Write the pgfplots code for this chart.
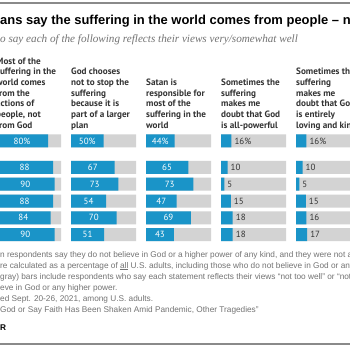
\documentclass[border=0pt]{standalone}
\usepackage{fontspec}
\setmainfont{PT Sans}
\newfontfamily\subfont{Liberation Serif}
\newfontfamily\libsans{Liberation Sans}
\usepackage{pgfplots}
\pgfplotsset{compat=1.18}
\usepackage{pgfplotstable}
\definecolor{pblue}{HTML}{1A94C8}
\definecolor{pgray}{HTML}{D3D3D3}
\definecolor{hdr}{HTML}{333333}
\definecolor{notec}{HTML}{737373}
\definecolor{rule}{HTML}{8A8A8A}

% y = row position (px from top), v = percent
\pgfplotstableread{
y v
141 80
167.5 88
184.25 90
201 88
217.75 84
234.5 90
}\colA
\pgfplotstableread{
y v
141 50
167.5 67
184.25 73
201 54
217.75 70
234.5 51
}\colB
\pgfplotstableread{
y v
141 44
167.5 65
184.25 73
201 47
217.75 69
234.5 43
}\colC
\pgfplotstableread{
y v
141 16
167.5 10
184.25 5
201 15
217.75 18
234.5 18
}\colD
\pgfplotstableread{
y v
141 16
167.5 10
184.25 5
201 15
217.75 16
234.5 17
}\colE

\pgfplotsset{colax/.style={scale only axis, width=65bp, height=115bp,
  xmin=0, xmax=100, ymin=130, ymax=245, y dir=reverse, hide axis,
  clip=false, anchor=north west,
  /pgf/number format/assume math mode=true}}

\newcommand\bars[1]{%
  \addplot[xbar, bar width=13bp, bar shift=0pt, fill=pgray, draw=none] table[x expr=100, y=y]{#1};
  \addplot[xbar, bar width=13bp, bar shift=0pt, fill=pblue, draw=none] table[x=v, y=y]{#1};
}
\newcommand\inlabels[1]{%
  \addplot[draw=none, mark=none, point meta=\thisrow{v}, restrict y to domain=130:150,
    nodes near coords={\pgfmathprintnumber{\pgfplotspointmeta}\%},
    every node near coord/.append style={text=white, anchor=center, inner sep=0pt, font=\fontsize{9}{9}\selectfont}]
    table[x expr=\thisrow{v}/2, y=y]{#1};
  \addplot[draw=none, mark=none, point meta=\thisrow{v}, restrict y to domain=150:250,
    nodes near coords={\pgfmathprintnumber{\pgfplotspointmeta}},
    every node near coord/.append style={text=white, anchor=center, inner sep=0pt, font=\fontsize{9}{9}\selectfont}]
    table[x expr=\thisrow{v}/2, y=y]{#1};
}
\newcommand\outlabels[1]{%
  \addplot[draw=none, mark=none, point meta=\thisrow{v}, restrict y to domain=130:150,
    nodes near coords={\pgfmathprintnumber{\pgfplotspointmeta}\%},
    every node near coord/.append style={text=hdr, anchor=west, inner sep=0pt, xshift=3bp, font=\fontsize{9}{9}\selectfont}]
    table[x=v, y=y]{#1};
  \addplot[draw=none, mark=none, point meta=\thisrow{v}, restrict y to domain=150:250,
    nodes near coords={\pgfmathprintnumber{\pgfplotspointmeta}},
    every node near coord/.append style={text=hdr, anchor=west, inner sep=0pt, xshift=3bp, font=\fontsize{9}{9}\selectfont}]
    table[x=v, y=y]{#1};
}

\begin{document}
\begin{tikzpicture}[x=1bp, y=1bp]
\path[use as bounding box, clip] (0,0) rectangle (350,350);
\fill[white] (0,0) rectangle (350,350);
% rules
\draw[rule, line width=1.5bp] (-5,347) -- (355,347);
\draw[rule, line width=1.5bp] (-5,6) -- (355,6);
% title & subtitle
\node[anchor=base west, inner sep=0pt, font=\libsans\bfseries\fontsize{13}{13}\selectfont] at (0,326)
  {\llap{Most Americ}ans say the suffering in the world comes from people – not God};
\node[anchor=base west, inner sep=0pt, text=notec, font=\subfont\itshape\fontsize{11.2}{11.2}\selectfont] at (0,307.5)
  {\llap{\% wh}o say each of the following reflects their views very/somewhat well};
% column headers
\tikzset{hd/.style={anchor=north west, inner sep=0pt, align=left, text=hdr, font=\bfseries\fontsize{9.2}{10.7}\selectfont}}
\node[hd] at (-4,292.6) {Most of the\\suffering in the\\world comes\\from the\\actions of\\people, not\\from God};
\node[hd] at (71,281.9) {God chooses\\not to stop the\\suffering\\because it is\\part of a larger\\plan};
\node[hd] at (146,271.2) {Satan is\\responsible for\\most of the\\suffering in the\\world};
\node[hd] at (221,271.2) {Sometimes the\\suffering\\makes me\\doubt that God\\is all-powerful};
\node[hd] at (296,281.9) {Sometimes the\\suffering\\makes me\\doubt that God\\is entirely\\loving and kind};
% bar panels
\begin{axis}[colax, at={(-4bp,220bp)}]
\bars{\colA}\inlabels{\colA}
\end{axis}
\begin{axis}[colax, at={(71bp,220bp)}]
\bars{\colB}\inlabels{\colB}
\end{axis}
\begin{axis}[colax, at={(146bp,220bp)}]
\bars{\colC}\inlabels{\colC}
\end{axis}
\begin{axis}[colax, at={(221bp,220bp)}]
\bars{\colD}\outlabels{\colD}
\end{axis}
\begin{axis}[colax, at={(296bp,220bp)}]
\bars{\colE}\outlabels{\colE}
\end{axis}
% notes
\tikzset{nt/.style={anchor=base west, inner sep=0pt, text=notec, font=\libsans\fontsize{8.3}{8.3}\selectfont}}
\node[nt] at (0,93) {\llap{Note: Whe}n respondents say they do not believe in God or a higher power of any kind, and they were not asked these questions.};
\node[nt] at (0,82) {\llap{Figures a}re calculated as a percentage of \underline{all} U.S. adults, including those who do not believe in God or any higher power.};
\node[nt] at (0,71) {\llap{Remaining (}gray) bars include respondents who say each statement reflects their views “not too well” or “not at all well.”};
\node[nt] at (0,60) {\llap{and those who do not beli}eve in God or any higher power.};
\node[nt] at (0,49) {\llap{Source: Survey conduct}ed Sept. 20-26, 2021, among U.S. adults.};
\node[nt] at (0,38) {\llap{“Few Americans Blame }God or Say Faith Has Been Shaken Amid Pandemic, Other Tragedies”};
\node[anchor=base west, inner sep=0pt, font=\libsans\bfseries\fontsize{8.3}{8.3}\selectfont] at (0,20) {\llap{PEW RESEARCH CENTE}R};
\end{tikzpicture}
\end{document}
